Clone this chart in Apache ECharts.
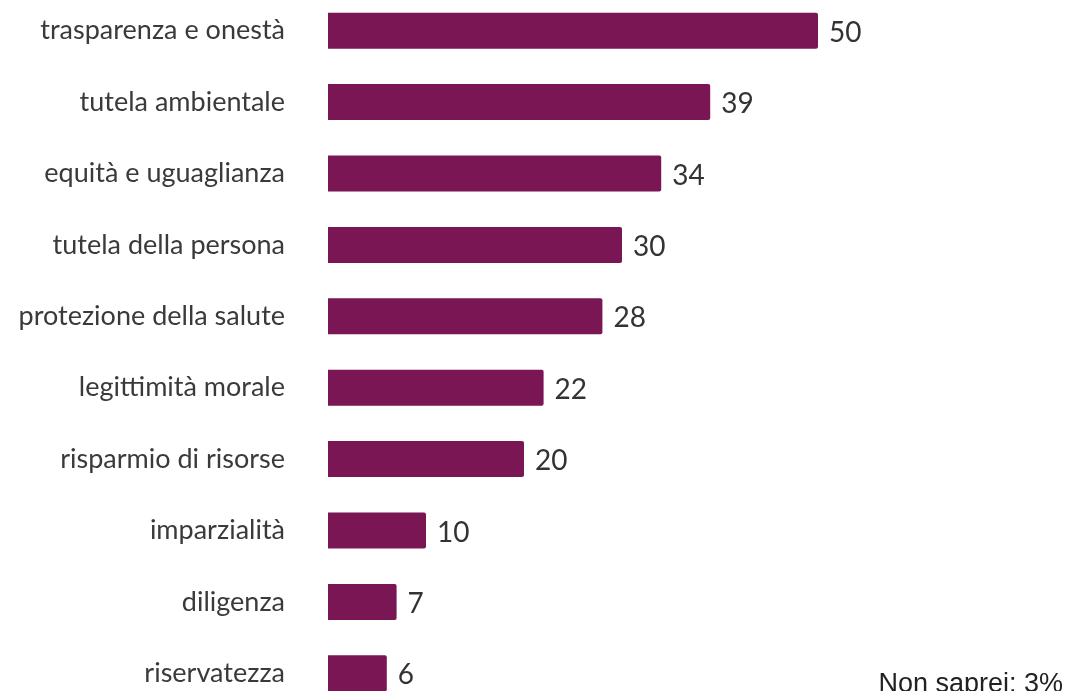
<!DOCTYPE html>
<html>
<head>
<meta charset="utf-8">
<style>
  html, body { margin: 0; padding: 0; background: #ffffff; }
  #chart { width: 1068px; height: 691px; }
</style>
<script src="https://cdn.jsdelivr.net/npm/echarts@6/dist/echarts.min.js"></script>
</head>
<body>
<div id="chart"></div>
<script>
// Valori ricercati (in %), dall'alto verso il basso
const categories = [
  'trasparenza e onestà',
  'tutela ambientale',
  'equità e uguaglianza',
  'tutela della persona',
  'protezione della salute',
  'legittimità morale',
  'risparmio di risorse',
  'imparzialità',
  'diligenza',
  'riservatezza'
];
const values = [50, 39, 34, 30, 28, 22, 20, 10, 7, 6];
const noAnswerText = 'Non saprei: 3%';

const barColor = '#7a1653';
const textColor = '#3a3a3a';
const labelFont = 'Lato, "Open Sans", sans-serif';

const chart = echarts.init(document.getElementById('chart'), null, { renderer: 'canvas' });

chart.setOption({
  animation: false,
  backgroundColor: '#ffffff',
  grid: {
    left: 328, top: -5, width: 490, height: 714,
    containLabel: false,
    outerBoundsMode: 'none'
  },
  xAxis: {
    type: 'value',
    min: 0,
    max: 50,
    show: false
  },
  yAxis: {
    type: 'category',
    data: categories,
    inverse: true,
    axisLine: { show: false },
    axisTick: { show: false },
    splitLine: { show: false },
    axisLabel: {
      margin: 43,
      color: textColor,
      fontFamily: labelFont,
      fontSize: 27
    }
  },
  series: [{
    type: 'bar',
    data: values,
    barWidth: 36,
    itemStyle: { color: barColor, borderRadius: [0, 2, 2, 0] },
    label: {
      show: true,
      position: 'right',
      distance: 11,
      offset: [0, 2],
      color: '#333333',
      fontFamily: labelFont,
      fontSize: 28
    }
  }],
  graphic: [{
    type: 'text',
    style: {
      x: 1063,
      y: 685,
      text: noAnswerText,
      align: 'right',
      verticalAlign: 'middle',
      fill: '#222222',
      font: '27px "Liberation Sans", Arial, sans-serif'
    }
  }]
});
</script>
</body>
</html>
